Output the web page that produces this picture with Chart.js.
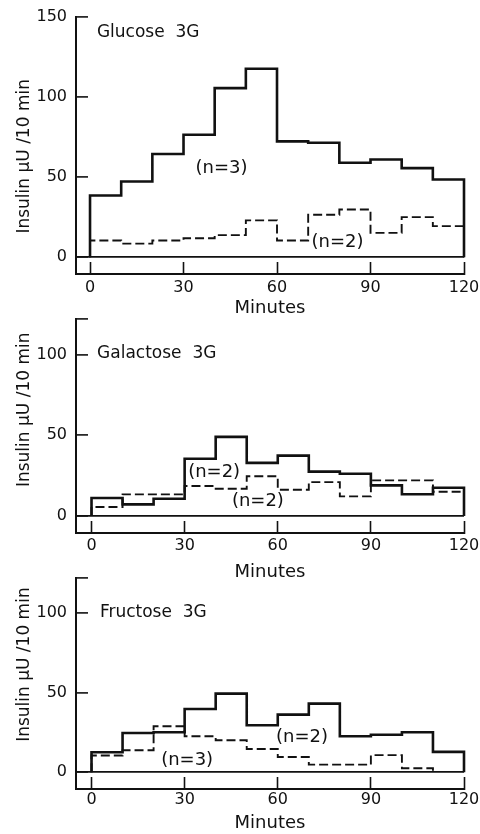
<!DOCTYPE html>
<html>
<head>
<meta charset="utf-8">
<script src="https://cdn.jsdelivr.net/npm/chart.js@4/dist/chart.umd.min.js"></script>
<style>
  html, body { margin: 0; padding: 0; background: #fff; }
  #wrap { position: relative; width: 480px; height: 834px; }
  canvas { position: absolute; left: 0; top: 0; }
</style>
</head>
<body>
<div id="wrap">
  <canvas id="c1" width="480" height="834"></canvas>
  <canvas id="c2" width="480" height="834"></canvas>
  <canvas id="c3" width="480" height="834"></canvas>
</div>
<script>
// ---- data (10-minute bins) ----
const binStarts = [0, 10, 20, 30, 40, 50, 60, 70, 80, 90, 100, 110];
const binWidth = 10;
const xTickValues = [0, 30, 60, 90, 120];
const xTickLabels = ['0', '30', '60', '90', '120'];
const yTickValuesGlucose = [0, 50, 100, 150];
const yTickValuesOther = [0, 50, 100];
const yTickLabelsGlucose = ['0', '50', '100', '150'];
const yTickLabelsOther = ['0', '50', '100'];

const glucoseSolid   = [38.5, 47.3, 64.4, 76.5, 105.6, 117.7, 72.3, 71.5, 59, 61, 55.6, 48.5];
const glucoseDashed  = [10.4, 8.5, 10.4, 11.8, 13.8, 23, 10.4, 26.5, 29.8, 15.2, 25, 19.4];
const galactoseSolid  = [11.2, 7.2, 10.7, 35.5, 49, 32.9, 37.4, 27.5, 26.2, 19, 13.5, 17.5];
const galactoseDashed = [5.6, 13.4, 13.4, 18.6, 16.9, 24.6, 16.3, 21, 12.2, 22.1, 22.1, 15];
const fructoseSolid  = [12.6, 24.7, 25.1, 39.7, 49.4, 29.5, 36.2, 43.1, 22.6, 23.6, 25.1, 12.8];
const fructoseDashed = [10.5, 13.8, 28.9, 22.6, 20.1, 14.6, 9.6, 4.8, 4.8, 10.8, 2.5];

const panelTitles = ['Glucose  3G', 'Galactose  3G', 'Fructose  3G'];
const seriesLabels = [['(n=3)', '(n=2)'], ['(n=2)', '(n=2)'], ['(n=2)', '(n=3)']];
const yTitle = 'Insulin \u03bcU /10 min';
const xTitle = 'Minutes';

// ---- helpers ----
function histPoints(vals) {
  const pts = [{x: binStarts[0], y: 0}];
  vals.forEach((v, i) => pts.push({x: binStarts[i], y: v}));
  pts.push({x: binStarts[vals.length - 1] + binWidth, y: 0});
  return pts;
}

const FONT = 'DejaVu Sans';
const INK = '#111';

const textPlugin = {
  id: 'panelText',
  afterDatasetsDraw(chart) {
    const anns = chart.options.plugins.panelText.items || [];
    const ctx = chart.ctx;
    const xs = chart.scales.x, ys = chart.scales.y;
    ctx.save();
    ctx.fillStyle = INK;
    ctx.textBaseline = 'middle';
    anns.forEach(a => {
      ctx.font = a.size + 'px "' + FONT + '"';
      ctx.textAlign = a.align;
      ctx.fillText(a.text, xs.getPixelForValue(a.x), ys.getPixelForValue(a.y));
    });
    ctx.restore();
  }
};

function zeroPad(s) { s.paddingLeft = 0; s.paddingRight = 0; s.paddingTop = 0; s.paddingBottom = 0; }

function makePanel(id, cfg) {
  const ds = (vals, dashed) => ({
    data: histPoints(vals),
    stepped: true,
    borderColor: INK,
    borderWidth: dashed ? 1.9 : 2.6,
    borderDash: dashed ? [9, 4] : [],
    pointRadius: 0,
    fill: false,
    clip: false
  });
  new Chart(document.getElementById(id), {
    type: 'line',
    data: { datasets: [ds(cfg.solid, false), ds(cfg.dashed, true)] },
    options: {
      responsive: false,
      animation: false,
      events: [],
      layout: { padding: { top: cfg.top, bottom: 834 - cfg.bottom - cfg.xH, left: 0, right: 16 } },
      plugins: {
        legend: { display: false },
        tooltip: { enabled: false },
        panelText: { items: cfg.texts }
      },
      scales: {
        x: {
          type: 'linear',
          min: cfg.xMin, max: 120,
          afterBuildTicks: s => { s.ticks = xTickValues.map(v => ({value: v})); },
          afterFit: s => { s.height = cfg.xH; zeroPad(s); },
          ticks: {
            padding: cfg.xPad,
            autoSkip: false,
            maxRotation: 0,
            color: INK,
            font: { family: FONT, size: 16 },
            callback: (v) => { const i = xTickValues.indexOf(v); return i >= 0 ? xTickLabels[i] : ''; }
          },
          grid: { drawOnChartArea: false, drawTicks: true, tickLength: -12, tickColor: INK, tickWidth: 1.6 },
          border: { display: true, color: INK, width: 2 },
          title: { display: true, text: xTitle, color: INK, font: { family: FONT, size: 18 }, padding: { top: 0, bottom: cfg.xTitlePad } }
        },
        y: {
          type: 'linear',
          min: -10.5, max: cfg.yMax,
          afterBuildTicks: s => {
            const t = cfg.yTicks.map(v => ({value: v}));
            if (cfg.yTicks.indexOf(cfg.yMax) < 0) t.push({value: cfg.yMax});
            s.ticks = t;
          },
          afterFit: s => { s.width = 76; zeroPad(s); },
          ticks: {
            padding: 21,
            color: INK,
            font: { family: FONT, size: 16 },
            callback: (v) => { const i = cfg.yTicks.indexOf(v); return i >= 0 ? cfg.yLabels[i] : ''; }
          },
          grid: {
            drawOnChartArea: true,
            drawTicks: true,
            tickLength: -12,
            tickColor: INK,
            tickWidth: 1.6,
            lineWidth: 1.8,
            color: (c) => (c.tick && c.tick.value === 0) ? INK : 'rgba(0,0,0,0)'
          },
          border: { display: true, color: INK, width: 2 },
          title: { display: true, text: cfg.yTitleText, color: INK, font: { family: FONT, size: 17 }, padding: { top: 14, bottom: 0 } }
        }
      }
    },
    plugins: [textPlugin]
  });
}

makePanel('c1', {
  solid: glucoseSolid, dashed: glucoseDashed,
  top: 17, bottom: 274, xH: 46, xPad: 16, xTitlePad: 1, xMin: -4.5,
  yMax: 150, yTicks: yTickValuesGlucose, yLabels: yTickLabelsGlucose,
  yTitleText: yTitle + '    ',
  texts: [
    { text: panelTitles[0], x: 2.2, y: 140, align: 'left', size: 17 },
    { text: seriesLabels[0][0], x: 42.2, y: 55.7, align: 'center', size: 18 },
    { text: seriesLabels[0][1], x: 79.4, y: 9.5, align: 'center', size: 18 }
  ]
});

makePanel('c2', {
  solid: galactoseSolid, dashed: galactoseDashed,
  top: 319, bottom: 533, xH: 50, xPad: 15, xTitlePad: 0, xMin: -5,
  yMax: 122, yTicks: yTickValuesOther, yLabels: yTickLabelsOther,
  yTitleText: '      ' + yTitle,
  texts: [
    { text: panelTitles[1], x: 1.8, y: 100.3, align: 'left', size: 17 },
    { text: seriesLabels[1][0], x: 39.5, y: 27.2, align: 'center', size: 18 },
    { text: seriesLabels[1][1], x: 53.6, y: 9.3, align: 'center', size: 18 }
  ]
});

makePanel('c3', {
  solid: fructoseSolid, dashed: fructoseDashed,
  top: 578, bottom: 789, xH: 45, xPad: 13.5, xTitlePad: 0, xMin: -5,
  yMax: 122, yTicks: yTickValuesOther, yLabels: yTickLabelsOther,
  yTitleText: '       ' + yTitle,
  texts: [
    { text: panelTitles[2], x: 2.7, y: 100, align: 'left', size: 17 },
    { text: seriesLabels[2][0], x: 67.8, y: 22.2, align: 'center', size: 18 },
    { text: seriesLabels[2][1], x: 30.8, y: 7.7, align: 'center', size: 18 }
  ]
});
</script>
</body>
</html>
